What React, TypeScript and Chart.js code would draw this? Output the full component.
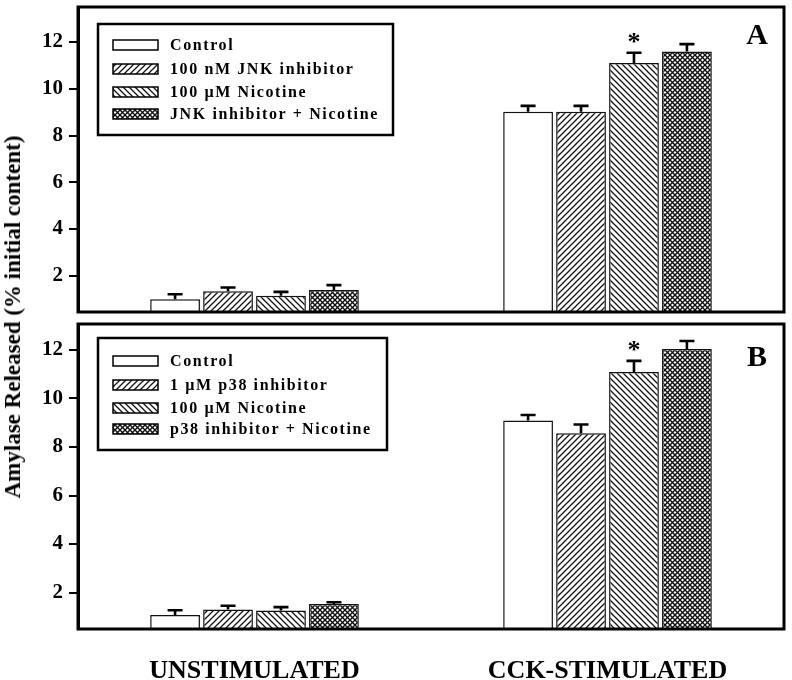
import React, { useEffect, useRef } from 'react';
import { Chart, registerables } from 'chart.js';

Chart.register(...registerables);

const FONT = "'Liberation Serif', 'Times New Roman', serif";

// ---------- data ----------
const categories = ['UNSTIMULATED', 'CCK-STIMULATED'];
const yTickValues = [2, 4, 6, 8, 10, 12];

const labelsA = ['Control', '100 nM JNK inhibitor', '100 \u00B5M Nicotine', 'JNK inhibitor + Nicotine'];
const controlA = [1.0, 9.02];
const controlAErr = [0.21, 0.25];
const jnkA = [1.34, 9.02];
const jnkAErr = [0.16, 0.25];
const nicotineA = [1.15, 11.1];
const nicotineAErr = [0.16, 0.44];
const comboA = [1.39, 11.6];
const comboAErr = [0.21, 0.31];
const sigA = [[false, false], [false, false], [false, true], [false, false]];

const labelsB = ['Control', '1 \u00B5M p38 inhibitor', '100 \u00B5M Nicotine', 'p38 inhibitor + Nicotine'];
const controlB = [1.08, 9.09];
const controlBErr = [0.19, 0.23];
const p38B = [1.3, 8.57];
const p38BErr = [0.16, 0.36];
const nicotineB = [1.26, 11.09];
const nicotineBErr = [0.14, 0.46];
const comboB = [1.53, 12.04];
const comboBErr = [0.07, 0.33];
const sigB = [[false, false], [false, false], [false, true], [false, false]];

const patternKinds = ['none', 'forward', 'backward', 'cross'];

function makePattern(kind: string): any {
  if (kind === 'none') return '#ffffff';
  const s = kind === 'cross' ? 5 : 6;
  const c = document.createElement('canvas');
  c.width = s;
  c.height = s;
  const g = c.getContext('2d')!;
  g.fillStyle = '#fff';
  g.fillRect(0, 0, s, s);
  g.strokeStyle = '#111';
  g.lineWidth = kind === 'cross' ? 1.4 : 1.25;
  const fwd = () => {
    g.beginPath();
    g.moveTo(-1, s + 1);
    g.lineTo(s + 1, -1);
    g.moveTo(-1, 1);
    g.lineTo(1, -1);
    g.moveTo(s - 1, s + 1);
    g.lineTo(s + 1, s - 1);
    g.stroke();
  };
  const back = () => {
    g.beginPath();
    g.moveTo(-1, -1);
    g.lineTo(s + 1, s + 1);
    g.moveTo(s - 1, -1);
    g.lineTo(s + 1, 1);
    g.moveTo(-1, s - 1);
    g.lineTo(1, s + 1);
    g.stroke();
  };
  if (kind === 'forward') fwd();
  if (kind === 'backward') back();
  if (kind === 'cross') {
    fwd();
    back();
  }
  return g.createPattern(c, 'repeat');
}

interface PanelCfg {
  labels: string[];
  values: number[][];
  errors: number[][];
  sig: boolean[][];
  yMin: number;
  yMax: number;
  letter: string;
  showX: boolean;
  height: number;
  padTop: number;
  padBottom: number;
  legendBox: { x: number; y: number; w: number; h: number };
  legendRows: number[];
  letterPos: { x: number; y: number };
}

function buildChart(canvas: HTMLCanvasElement, cfg: PanelCfg) {
  const patterns = patternKinds.map(makePattern);
  const decor = {
    id: 'decor',
    afterDatasetsDraw(chart: any) {
      const ctx = chart.ctx;
      const y = chart.scales.y;
      ctx.save();
      ctx.strokeStyle = '#000';
      ctx.fillStyle = '#000';
      ctx.lineWidth = 2.6;
      chart.data.datasets.forEach((ds: any, i: number) => {
        const meta = chart.getDatasetMeta(i);
        meta.data.forEach((el: any, j: number) => {
          const v = ds.data[j];
          const e = cfg.errors[i][j];
          const yBar = y.getPixelForValue(v);
          const yTop = y.getPixelForValue(v + e);
          ctx.beginPath();
          ctx.moveTo(el.x, yBar);
          ctx.lineTo(el.x, yTop);
          ctx.moveTo(el.x - 7.5, yTop);
          ctx.lineTo(el.x + 7.5, yTop);
          ctx.stroke();
          if (cfg.sig[i][j]) {
            ctx.font = `bold 26px ${FONT}`;
            ctx.textAlign = 'center';
            ctx.textBaseline = 'alphabetic';
            ctx.fillText('*', el.x, yTop - 3);
          }
        });
      });
      ctx.restore();
    },
    afterDraw(chart: any) {
      const ctx = chart.ctx;
      const a = chart.chartArea;
      ctx.save();
      // frame
      ctx.strokeStyle = '#000';
      ctx.lineWidth = 3;
      ctx.strokeRect(a.left, a.top, a.right - a.left, a.bottom - a.top);
      // legend
      const lb = cfg.legendBox;
      ctx.fillStyle = '#fff';
      ctx.fillRect(lb.x, lb.y, lb.w, lb.h);
      ctx.lineWidth = 2.5;
      ctx.strokeRect(lb.x, lb.y, lb.w, lb.h);
      ctx.font = `bold 16px ${FONT}`;
      (ctx as any).letterSpacing = '1.6px';
      ctx.textAlign = 'left';
      ctx.textBaseline = 'middle';
      chart.data.datasets.forEach((ds: any, i: number) => {
        const ry = cfg.legendRows[i];
        ctx.fillStyle = ds.backgroundColor;
        ctx.fillRect(lb.x + 15, ry - 5, 45, 10);
        ctx.lineWidth = 1.5;
        ctx.strokeStyle = '#000';
        ctx.strokeRect(lb.x + 15, ry - 5, 45, 10);
        ctx.fillStyle = '#000';
        ctx.fillText(ds.label, lb.x + 72, ry + 1);
      });
      (ctx as any).letterSpacing = '0px';
      // panel letter
      ctx.font = `bold 30px ${FONT}`;
      ctx.textAlign = 'center';
      ctx.textBaseline = 'middle';
      ctx.fillStyle = '#000';
      ctx.fillText(cfg.letter, cfg.letterPos.x, cfg.letterPos.y);
      ctx.restore();
    },
  };

  return new Chart(canvas, {
    type: 'bar',
    data: {
      labels: categories,
      datasets: cfg.values.map((vals, i) => ({
        label: cfg.labels[i],
        data: vals,
        backgroundColor: patterns[i],
        borderColor: '#111',
        borderWidth: 1.5,
        categoryPercentage: 0.6,
        barPercentage: 0.94,
      })),
    },
    options: {
      responsive: false,
      animation: false,
      devicePixelRatio: 1,
      layout: { padding: { top: cfg.padTop, right: 8, left: 0, bottom: cfg.padBottom } },
      plugins: { legend: { display: false }, tooltip: { enabled: false } },
      scales: {
        x: {
          display: cfg.showX,
          grid: { display: false },
          border: { display: false },
          ticks: {
            padding: 19,
            color: '#000',
            font: { family: FONT, size: 26, weight: 'bold' },
            maxRotation: 0,
          },
          afterFit: (s: any) => {
            if (cfg.showX) s.height = 51;
            s.paddingLeft = 0;
            s.paddingRight = 0;
          },
        },
        y: {
          min: cfg.yMin,
          max: cfg.yMax,
          grid: {
            display: true,
            drawOnChartArea: false,
            drawTicks: true,
            tickLength: 9,
            lineWidth: 2,
            color: '#000',
          },
          border: { display: true, width: 3, color: '#000' },
          ticks: {
            padding: 6,
            color: '#000',
            font: { family: FONT, size: 21, weight: 'bold' },
          },
          afterBuildTicks: (s: any) => {
            s.ticks = yTickValues.map((v) => ({ value: v }));
          },
          afterFit: (s: any) => {
            s.width = 78;
            s.paddingTop = 0;
            s.paddingBottom = 0;
          },
        },
      },
    },
    plugins: [decor],
  } as any);
}

function Panel({ cfg, top }: { cfg: PanelCfg; top: number }) {
  const ref = useRef<HTMLCanvasElement | null>(null);
  useEffect(() => {
    if (!ref.current) return;
    const chart = buildChart(ref.current, cfg);
    return () => chart.destroy();
  }, [cfg]);
  return (
    <canvas
      ref={ref}
      width={792}
      height={cfg.height}
      style={{ position: 'absolute', left: 0, top, width: 792, height: cfg.height }}
    />
  );
}

const panelA: PanelCfg = {
  labels: labelsA,
  values: [controlA, jnkA, nicotineA, comboA],
  errors: [controlAErr, jnkAErr, nicotineAErr, comboAErr],
  sig: sigA,
  yMin: 0.45,
  yMax: 13.5,
  letter: 'A',
  showX: false,
  height: 320,
  padTop: 7,
  padBottom: 8,
  legendBox: { x: 98, y: 24, w: 295, h: 111 },
  legendRows: [45, 69, 92, 114],
  letterPos: { x: 757, y: 36 },
};

const panelB: PanelCfg = {
  labels: labelsB,
  values: [controlB, p38B, nicotineB, comboB],
  errors: [controlBErr, p38BErr, nicotineBErr, comboBErr],
  sig: sigB,
  yMin: 0.5,
  yMax: 13.07,
  letter: 'B',
  showX: true,
  height: 360,
  padTop: 4,
  padBottom: 0,
  legendBox: { x: 98, y: 18, w: 289, h: 112 },
  legendRows: [41, 65, 88, 109],
  letterPos: { x: 757, y: 38 },
};

export default function App() {
  useEffect(() => {
    document.body.style.margin = '0';
  }, []);
  return (
    <div style={{ position: 'relative', width: 792, height: 680, background: '#fff', overflow: 'hidden' }}>
      <Panel cfg={panelA} top={0} />
      <Panel cfg={panelB} top={320} />
      <div
        style={{
          position: 'absolute',
          left: 13,
          top: 317,
          transform: 'translate(-50%, -50%) rotate(-90deg)',
          whiteSpace: 'nowrap',
          fontFamily: FONT,
          fontWeight: 'bold',
          fontSize: 23,
          color: '#000',
        }}
      >
        Amylase Released (% initial content)
      </div>
    </div>
  );
}
